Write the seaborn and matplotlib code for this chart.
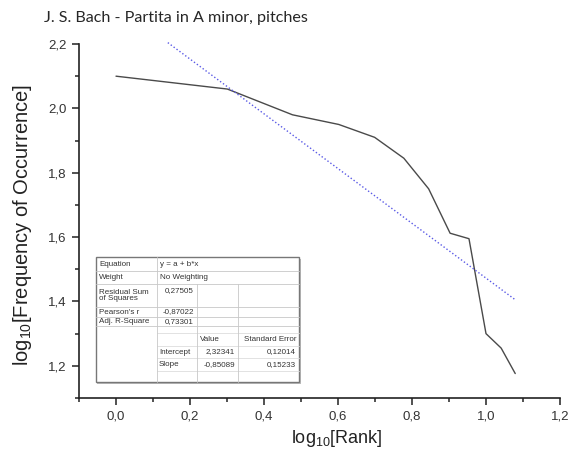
import numpy as np
import pandas as pd
import matplotlib
matplotlib.use("Agg")
import matplotlib.pyplot as plt
from matplotlib.lines import Line2D
from matplotlib.patches import Rectangle
from matplotlib.ticker import FuncFormatter, MultipleLocator
import seaborn as sns

# data
log_rank = [0.0, 0.301, 0.477, 0.602, 0.699, 0.778, 0.845, 0.903, 0.954, 1.0, 1.041, 1.079]
log_freq = [2.10, 2.06, 1.98, 1.95, 1.91, 1.845, 1.75, 1.612, 1.595, 1.30, 1.255, 1.176]
intercept = 2.32341
slope = -0.85089
fit_x = [0.14, 1.079]

table_labels = ["Equation", "Weight", "Residual Sum\nof Squares", "Pearson's r", "Adj. R-Square"]
table_values = ["y = a + b*x", "No Weighting", "0,27505", "-0,87022", "0,73301"]
coef_names = ["Intercept", "Slope"]
coef_values = ["2,32341", "-0,85089"]
coef_errors = ["0,12014", "0,15233"]

sns.set_style("ticks")
plt.rcParams["font.family"] = ["Liberation Sans", "DejaVu Sans"]
plt.rcParams["mathtext.fontset"] = "custom"
plt.rcParams["mathtext.rm"] = "Liberation Sans"
plt.rcParams["mathtext.it"] = "Liberation Sans:italic"

W, H = 572, 463
fig = plt.figure(figsize=(W / 100, H / 100), dpi=100)
ax = fig.add_axes([79 / W, 1 - 398 / H, (560 - 79) / W, (398 - 44) / H])

df = pd.DataFrame({"x": log_rank, "y": log_freq})
sns.lineplot(data=df, x="x", y="y", ax=ax, color="#4a4a4a", linewidth=1.0)

fx = np.array(fit_x)
fit = pd.DataFrame({"x": fx, "y": intercept + slope * fx})
sns.lineplot(data=fit, x="x", y="y", ax=ax, color="#5a5ae6", linewidth=1.0,
             linestyle=(0, (1, 1.6)), clip_on=False)

ax.set_xlim(-0.1, 1.2)
ax.set_ylim(1.1, 2.2)
sns.despine(ax=ax)
ax.xaxis.set_major_locator(MultipleLocator(0.2))
ax.xaxis.set_minor_locator(MultipleLocator(0.1))
ax.yaxis.set_major_locator(MultipleLocator(0.2))
ax.yaxis.set_minor_locator(MultipleLocator(0.1))
comma = FuncFormatter(lambda v, p: f"{v:.1f}".replace(".", ","))
ax.xaxis.set_major_formatter(comma)
ax.yaxis.set_major_formatter(comma)
ax.tick_params(which="major", length=5, width=1.2, labelsize=9.5, colors="#333333", pad=4)
ax.tick_params(which="minor", length=3, width=1.2, colors="#333333")
for s in ["left", "bottom"]:
    ax.spines[s].set_linewidth(1.2)
    ax.spines[s].set_color("#222222")

ax.set_xlabel(r"log$_{10}$[Rank]", fontsize=13, color="#222222")
ax.set_ylabel(r"log$_{10}$[Frequency of Occurrence]", fontsize=14.5, color="#222222")
ax.xaxis.set_label_coords(0.536, -0.085)
ax.yaxis.set_label_coords(-0.094, 0.49)

fig.text(44 / W, 1 - 18 / H, "J. S. Bach - Partita in A minor, pitches",
         fontsize=11.6, family=["Lato", "DejaVu Sans"], va="center", ha="left")

# statistics box
def fx_(px):
    return px / W

def fy_(py):
    return 1 - py / H

def hline(x0, x1, y, color="#c8c8c8", lw=0.6):
    fig.add_artist(Line2D([fx_(x0), fx_(x1)], [fy_(y), fy_(y)], color=color, lw=lw))

def vline(x, y0, y1, color="#c8c8c8", lw=0.6):
    fig.add_artist(Line2D([fx_(x), fx_(x)], [fy_(y0), fy_(y1)], color=color, lw=lw))

c0, c1, c2, c3, c4 = 96, 157, 197, 238, 299
top, bot = 257, 382
fig.add_artist(Rectangle((fx_(c0 + 1.5), fy_(bot + 1.5)), (c4 - c0) / W, (bot - top) / H,
                         facecolor="#bbbbbb", edgecolor="none", transform=fig.transFigure))
fig.add_artist(Rectangle((fx_(c0), fy_(bot)), (c4 - c0) / W, (bot - top) / H,
                         facecolor="white", edgecolor="#777777", lw=1.0, transform=fig.transFigure))

row_edges = [257, 271, 284, 307, 317, 326]
for y in row_edges[1:]:
    hline(c0, c4, y)
for y in [333, 346, 358, 371]:
    hline(c1, c4, y, color="#dddddd")
vline(c1, top, bot)
vline(c2, 284, bot)
vline(c3, 284, bot)

fs = 5.8
for i, (lab, val) in enumerate(zip(table_labels, table_values)):
    yc = (row_edges[i] + row_edges[i + 1]) / 2
    fig.text(fx_(c0 + 3), fy_(yc), lab, fontsize=fs, va="center", ha="left",
             color="#333333", linespacing=0.95)
    if i < 2:
        fig.text(fx_(c1 + 3), fy_(yc), val, fontsize=fs, va="center", ha="left", color="#333333")
    else:
        fig.text(fx_(c2 - 3), fy_(yc - 5 if i == 2 else yc), val, fontsize=fs,
                 va="center", ha="right", color="#333333")

fig.text(fx_(c2 + 3), fy_(339.5), "Value", fontsize=fs, va="center", ha="left", color="#333333")
fig.text(fx_(c4 - 2), fy_(339.5), "Standard Error", fontsize=fs, va="center", ha="right", color="#333333")
for j, yc in enumerate([352, 364.5]):
    fig.text(fx_(c1 + 2), fy_(yc), coef_names[j], fontsize=fs, va="center", ha="left", color="#333333")
    fig.text(fx_(c3 - 3), fy_(yc), coef_values[j], fontsize=fs, va="center", ha="right", color="#333333")
    fig.text(fx_(c4 - 3), fy_(yc), coef_errors[j], fontsize=fs, va="center", ha="right", color="#333333")

fig.savefig("out.png", dpi=100)
